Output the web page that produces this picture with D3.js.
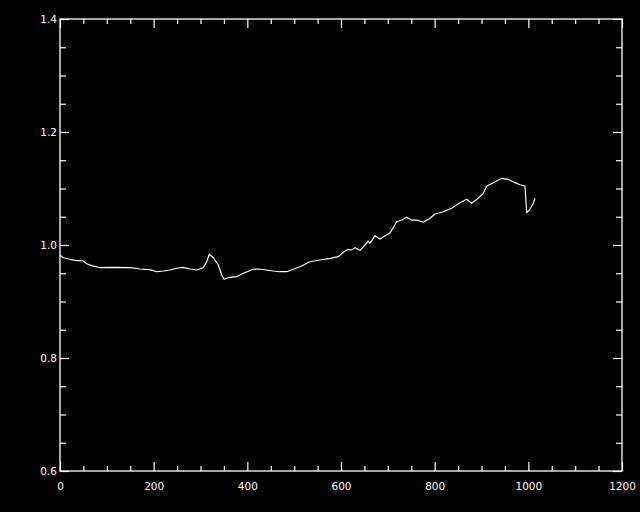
<!DOCTYPE html>
<html><head><meta charset="utf-8">
<script src="https://cdn.jsdelivr.net/npm/d3@7"></script>
<style>
html,body{margin:0;padding:0;background:#000;}
svg{display:block;}
</style></head>
<body>
<svg id="c" width="640" height="512"></svg>
<script>
const xVals = [0,7,17.7,32,49.7,57,67.7,85.4,113.8,149.5,170.8,192.2,206.5,220.6,234.9,249.2,263.3,277.6,291.9,306,313.2,318.8,327.3,338,345.3,350.2,359.4,377.3,391.4,412.7,423.4,441.3,455.4,469.7,484.1,498.1,516.1,526.8,533.8,555.2,576.5,594.2,604.9,615.6,622.8,629.9,640.6,651.3,658.3,661.9,672.6,683.3,694,704.7,719,729.6,740.3,751,761.7,775.7,790,800.7,818.4,836.3,854.1,868.4,879,893.1,903.8,911.1,925.2,943.1,957.2,971.5,982.2,992.9,996.5,1003.5,1010.6,1014.2];
const yVals = [0.9818,0.9775,0.9752,0.9729,0.9717,0.9669,0.9634,0.9598,0.9605,0.9598,0.9575,0.9563,0.9527,0.954,0.9558,0.9588,0.9605,0.9575,0.9558,0.9598,0.9704,0.9835,0.9775,0.9646,0.9469,0.9393,0.9421,0.9439,0.9499,0.957,0.9575,0.9558,0.954,0.9527,0.9527,0.957,0.9628,0.9676,0.9704,0.9734,0.9764,0.9793,0.9871,0.9924,0.9912,0.9952,0.9906,1.0,1.0071,1.003,1.0165,1.0106,1.0165,1.0212,1.0412,1.0442,1.049,1.0442,1.0442,1.0402,1.0473,1.0549,1.0589,1.065,1.0749,1.0809,1.0738,1.0827,1.0915,1.1044,1.1103,1.118,1.1163,1.1103,1.1067,1.1044,1.0572,1.0632,1.0738,1.0827];
const xMajor = [0,200,400,600,800,1000,1200];
const xMinor = [50,100,150,250,300,350,450,500,550,650,700,750,850,900,950,1050,1100,1150];
const yMajor = [0.6,0.8,1.0,1.2,1.4];
const yMinor = [0.65,0.7,0.75,0.85,0.9,0.95,1.05,1.1,1.15,1.25,1.3,1.35];
const xLabels = ["0","200","400","600","800","1000","1200"];
const yLabels = ["0.6","0.8","1.0","1.2","1.4"];

const L=60,R=622,T=19,B=471;
const svg=d3.select("#c");
svg.append("rect").attr("width",640).attr("height",512).attr("fill","#000");
const x=d3.scaleLinear().domain([0,1200]).range([L,R]);
const y=d3.scaleLinear().domain([0.6,1.4]).range([B,T]);
const font="'DejaVu Sans', 'Liberation Sans', sans-serif";

function styleAxis(g){
  g.select(".domain").remove();
  g.selectAll(".tick line").attr("stroke","#fff").attr("stroke-width",1.2);
  g.selectAll(".tick text").attr("fill","#fff").attr("font-family",font).attr("font-size",10.5);
}
// bottom
svg.append("g").attr("transform",`translate(0,${B})`)
  .call(d3.axisBottom(x).tickValues(xMajor).tickSize(-9).tickPadding(12).tickFormat((d,i)=>xLabels[i])).call(styleAxis);
svg.append("g").attr("transform",`translate(0,${B})`)
  .call(d3.axisBottom(x).tickValues(xMinor).tickSize(-5).tickFormat("")).call(styleAxis);
// top
svg.append("g").attr("transform",`translate(0,${T})`)
  .call(d3.axisTop(x).tickValues(xMajor).tickSize(-9).tickFormat("")).call(styleAxis);
svg.append("g").attr("transform",`translate(0,${T})`)
  .call(d3.axisTop(x).tickValues(xMinor).tickSize(-5).tickFormat("")).call(styleAxis);
// left
svg.append("g").attr("transform",`translate(${L},0)`)
  .call(d3.axisLeft(y).tickValues(yMajor).tickSize(-9).tickPadding(3).tickFormat((d,i)=>yLabels[i])).call(styleAxis);
svg.append("g").attr("transform",`translate(${L},0)`)
  .call(d3.axisLeft(y).tickValues(yMinor).tickSize(-6).tickFormat("")).call(styleAxis);
// right
svg.append("g").attr("transform",`translate(${R},0)`)
  .call(d3.axisRight(y).tickValues(yMajor).tickSize(-9).tickFormat("")).call(styleAxis);
svg.append("g").attr("transform",`translate(${R},0)`)
  .call(d3.axisRight(y).tickValues(yMinor).tickSize(-6).tickFormat("")).call(styleAxis);

// frame
svg.append("rect").attr("x",L).attr("y",T).attr("width",R-L).attr("height",B-T)
  .attr("fill","none").attr("stroke","#fff").attr("stroke-width",1.3);

const data=xVals.map((v,i)=>[v,yVals[i]]);
svg.append("path").datum(data)
  .attr("d",d3.line().x(d=>x(d[0])).y(d=>y(d[1])))
  .attr("fill","none").attr("stroke","#fff").attr("stroke-width",1.2).attr("stroke-linejoin","round");
</script>
</body></html>
